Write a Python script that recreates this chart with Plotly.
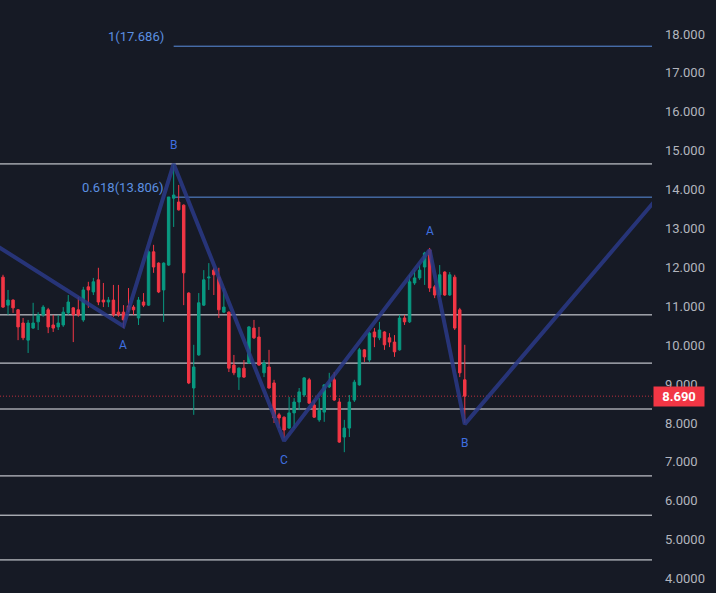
import plotly.graph_objects as go

# ---- data ----
OPEN = [11.75, 11.03, 11.16, 10.91, 10.57, 10.13, 10.44, 10.60, 10.78, 10.91,
        10.52, 10.47, 10.52, 10.83, 10.96, 10.91, 10.65, 11.50, 11.37, 11.68,
        11.16, 11.11, 11.16, 10.85, 10.85, 11.01, 10.98, 10.70, 11.11, 11.03,
        12.40, 12.11, 11.42, 12.06, 13.78, 13.68, 13.60, 11.34, 8.90, 9.75,
        11.03, 11.73, 11.93, 11.75, 10.85, 10.85, 9.49, 9.18, 9.41, 9.54,
        10.44, 10.21, 9.29, 9.44, 9.03, 8.21, 8.15, 7.87, 8.26, 8.54,
        8.72, 9.11, 8.46, 8.08, 8.28, 8.93, 9.11, 8.54, 7.64, 7.87,
        8.59, 8.98, 9.88, 9.62, 10.34, 10.19, 10.34, 10.19, 10.08, 9.88,
        10.70, 10.60, 11.60, 11.73, 12.01, 12.45, 11.50, 11.29, 11.88, 11.29,
        11.75, 10.91, 9.11]
HIGH = [11.81, 11.42, 11.18, 10.93, 10.70, 10.65, 11.09, 10.85, 11.03, 10.96,
        10.78, 10.78, 10.98, 11.29, 10.98, 11.24, 11.50, 11.63, 11.73, 11.99,
        11.60, 11.24, 11.55, 11.55, 11.03, 11.47, 11.03, 11.24, 11.34, 12.45,
        12.58, 12.13, 12.13, 13.81, 14.66, 14.12, 13.62, 11.36, 10.01, 11.34,
        11.93, 12.11, 11.99, 11.99, 11.47, 10.87, 9.75, 9.43, 9.62, 10.49,
        10.65, 10.47, 9.62, 9.88, 9.11, 8.26, 8.17, 8.67, 8.64, 8.90,
        9.18, 9.16, 8.59, 8.64, 9.00, 9.29, 9.31, 8.64, 8.08, 8.72,
        9.11, 9.93, 9.90, 10.34, 10.44, 10.60, 10.36, 10.31, 10.26, 10.78,
        10.78, 11.81, 11.93, 12.06, 12.40, 12.50, 11.55, 12.06, 11.90, 11.88,
        11.81, 10.96, 10.01]
LOW = [10.96, 10.78, 10.83, 10.13, 10.13, 9.80, 10.42, 10.39, 10.73, 10.31,
       10.34, 10.39, 10.47, 10.78, 10.08, 10.73, 10.60, 10.96, 11.29, 11.03,
       10.98, 10.98, 10.73, 10.73, 10.44, 10.85, 10.78, 10.52, 10.98, 11.01,
       11.86, 11.34, 10.60, 12.04, 13.04, 13.46, 11.03, 9.00, 8.21, 9.73,
       11.01, 11.42, 11.29, 10.70, 10.83, 9.31, 9.23, 8.85, 9.16, 9.52,
       10.16, 9.47, 9.18, 8.88, 8.00, 7.87, 7.61, 7.85, 7.87, 8.33,
       8.67, 8.50, 8.13, 8.03, 8.03, 8.90, 8.57, 7.49, 7.25, 7.64,
       8.54, 8.96, 9.57, 9.57, 9.95, 10.13, 9.88, 9.95, 9.70, 9.86,
       10.52, 10.57, 11.55, 11.68, 11.55, 11.37, 11.21, 11.24, 11.27, 11.27,
       10.39, 9.18, 8.00]
CLOSE = [10.98, 11.16, 10.96, 10.47, 10.19, 10.57, 10.57, 10.78, 10.98, 10.47,
         10.44, 10.57, 10.85, 11.11, 10.78, 10.78, 11.42, 11.42, 11.63, 11.11,
         11.11, 11.16, 10.78, 10.78, 10.65, 10.91, 10.91, 11.16, 11.03, 12.40,
         12.01, 11.37, 12.11, 13.81, 13.86, 13.48, 11.86, 9.03, 9.44, 11.09,
         11.68, 11.75, 11.81, 10.91, 10.98, 9.41, 9.29, 9.41, 9.18, 10.47,
         10.19, 9.49, 9.54, 8.90, 8.13, 8.13, 7.82, 8.26, 8.54, 8.80,
         9.16, 8.51, 8.15, 8.33, 8.98, 9.03, 8.59, 7.51, 7.87, 8.54,
         9.05, 9.88, 9.70, 10.31, 10.21, 10.39, 10.01, 10.08, 9.83, 10.70,
         10.60, 11.63, 11.73, 11.93, 12.37, 11.47, 11.29, 11.81, 11.29, 11.81,
         10.44, 9.29, 8.69]
BAR = list(range(len(CLOSE)))

ZZ_X = [-3.0, 24, 34, 56, 85, 92, 136]
ZZ_Y = [12.70, 10.49, 14.66, 7.54, 12.45, 7.97, 14.64]
ZZ_LABELS = ["A", "B", "C", "A", "B"]
ZZ_LABEL_SIDE = [-1, 1, -1, 1, -1]

LEVELS_WHITE = [14.66, 10.78, 9.54, 8.36, 6.64, 5.63, 4.48]
FIB_LEVELS = [17.686, 13.806]
FIB_TEXT = ["1(17.686)", "0.618(13.806)"]
FIB_START = 34

LAST_PRICE = 8.69
TICK_VALS = [18, 17, 16, 15, 14, 13, 12, 11, 10, 9, 8, 7, 6, 5, 4]
TICK_TEXT = ["18.000", "17.000", "16.000", "15.000", "14.000", "13.000", "12.000",
             "11.000", "10.000", "9.000", "8.000", "7.000", "6.000", "5.0000", "4.0000"]

BG = "#161a25"
GREEN = "#089981"
RED = "#f23645"
FIB_BLUE = "#5b8fe0"
ZZ_COLOR = "rgba(42,58,135,0.85)"
LABEL_BLUE = "#3f6fe0"
FONT = "Roboto"

fig = go.Figure()

fig.add_trace(go.Candlestick(
    x=BAR, open=OPEN, high=HIGH, low=LOW, close=CLOSE,
    increasing=dict(line=dict(color=GREEN, width=1), fillcolor=GREEN),
    decreasing=dict(line=dict(color=RED, width=1), fillcolor=RED),
    whiskerwidth=0, showlegend=False, hoverinfo="skip",
))

fig.add_trace(go.Scatter(
    x=ZZ_X, y=ZZ_Y, mode="lines",
    line=dict(color=ZZ_COLOR, width=4),
    showlegend=False, hoverinfo="skip",
))

shapes = []
for lv in LEVELS_WHITE:
    shapes.append(dict(type="line", xref="paper", x0=0, x1=1, yref="y", y0=lv, y1=lv,
                       line=dict(color="#e8eaf0", width=1), layer="below"))
for lv in FIB_LEVELS:
    shapes.append(dict(type="line", xref="x", x0=FIB_START, x1=140, yref="y", y0=lv, y1=lv,
                       line=dict(color=FIB_BLUE, width=1), layer="below"))
shapes.append(dict(type="line", xref="paper", x0=0, x1=1, yref="y", y0=LAST_PRICE, y1=LAST_PRICE,
                   line=dict(color="rgba(242,54,69,0.75)", width=1, dash="1px,2px"), layer="below"))

annotations = []
for lv, txt in zip(FIB_LEVELS, FIB_TEXT):
    annotations.append(dict(x=32.4, y=lv, xref="x", yref="y", text=txt, showarrow=False,
                            xanchor="right", yanchor="middle", yshift=10,
                            font=dict(family=FONT, size=13, color=FIB_BLUE)))
for xx, yy, lab, side in zip(ZZ_X[1:6], ZZ_Y[1:6], ZZ_LABELS, ZZ_LABEL_SIDE):
    annotations.append(dict(x=xx, y=yy, xref="x", yref="y", text=lab, showarrow=False,
                            xanchor="center", yanchor="middle", yshift=19 * side,
                            font=dict(family=FONT, size=12, color=LABEL_BLUE)))
annotations.append(dict(x=1, y=LAST_PRICE, xref="paper", yref="y", text="<b>8.690</b>",
                        showarrow=False, xanchor="left", yanchor="middle", xshift=1,
                        bgcolor=RED, width=46, height=15, borderpad=2,
                        font=dict(family=FONT, size=13, color="#ffffff")))

fig.update_layout(
    width=716, height=593,
    margin=dict(l=0, r=64, t=0, b=0),
    paper_bgcolor=BG, plot_bgcolor=BG,
    shapes=shapes, annotations=annotations,
    showlegend=False,
    xaxis=dict(range=[-0.6, 129.3], visible=False, rangeslider=dict(visible=False),
               showgrid=False, zeroline=False),
    yaxis=dict(range=[3.63, 18.874], side="right", showgrid=False, zeroline=False,
               tickvals=TICK_VALS, ticktext=TICK_TEXT, ticks="", showline=False,
               ticklabelstandoff=12,
               tickfont=dict(family=FONT, size=13, color="#b2b5be")),
)

fig.write_html("out.html", config={"displayModeBar": False},
               post_script="document.body.style.margin='0';document.body.style.overflow='hidden';")
